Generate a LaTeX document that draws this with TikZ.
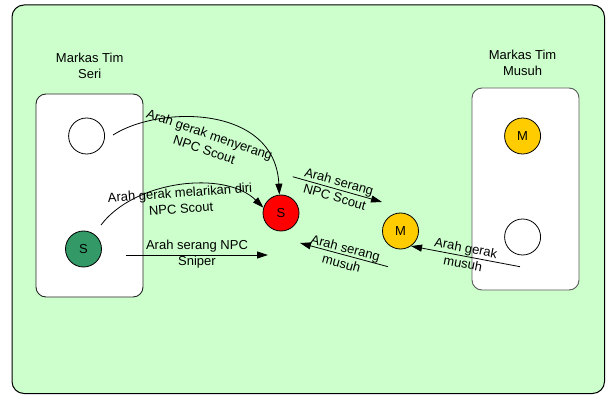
\documentclass[tikz,border=0pt]{standalone}
\usepackage{fontspec}
\setmainfont{Liberation Sans}
\usetikzlibrary{arrows.meta}
\definecolor{bggreen}{HTML}{CCFFCC}
\definecolor{sgreen}{HTML}{339966}
\definecolor{myyellow}{HTML}{FFCC00}
\begin{document}
\begin{tikzpicture}[x=1pt,y=-1pt,
  every node/.style={font=\fontsize{13}{16}\selectfont},
  circ/.style={circle,draw=black,line width=0.8pt,minimum size=36pt,inner sep=0pt},
  lbl/.style={align=center,inner sep=0pt},
  arr/.style={line width=0.8pt,-{Triangle[length=11pt,width=7pt]}},
  basebox/.style={draw=black!85,line width=0.9pt,fill=white,rounded corners=10pt}]
\useasboundingbox (0,0) rectangle (606,396);
\draw[fill=bggreen,draw=black,line width=1pt,rounded corners=12pt] (12,5) rectangle (604.5,393.5);
% bases
\draw[basebox] (36,94) rectangle (143,297);
\draw[basebox,draw=black!65] (472,88) rectangle (579,290);
\node[lbl] (tseri) at (89.7,66) {Markas Tim\\Seri};
\node[lbl] (tmusuh) at (522.6,63) {Markas Tim\\Musuh};
% circles
\node[circ,fill=white] (w1) at (86.6,136) {};
\node[circ,fill=sgreen] (gs) at (83.5,249) {S};
\node[circ,fill=red] (rs) at (281,213) {S};
\node[circ,fill=myyellow] (ym) at (400.5,231) {M};
\node[circ,fill=myyellow] (ym2) at (522.6,136) {M};
\node[circ,fill=white] (w2) at (522.6,237) {};
% free ends
\coordinate (a1s) at (113,135);
\coordinate (a2s) at (101,225);
\coordinate (a3s) at (125.6,255);
\coordinate (a3e) at (268,255);
\coordinate (a4s) at (292.7,176.7);
\coordinate (a4e) at (382,202);
\coordinate (a5s) at (388,266.7);
\coordinate (a5e) at (300,243);
\coordinate (a6s) at (520,266.7);
% arrows
\draw[arr] (a1s) .. controls (160,105) and (275,105) .. (rs.95);
\draw[arr] (a2s) .. controls (135,180) and (225,170) .. (rs.163);
\draw[arr] (a3s) -- (a3e);
\draw[arr] (a4s) -- (a4e);
\draw[arr] (a5s) -- (a5e);
\draw[arr] (a6s) -- (ym.-55);
% labels
\node[lbl,rotate=-19] (l1) at (207,142) {Arah gerak menyerang\\NPC Scout};
\node[lbl,rotate=4] (l2) at (180.5,200.5) {Arah gerak melarikan diri\\NPC Scout};
\node[lbl] (l3) at (197,254.5) {Arah serang NPC\\Sniper};
\node[lbl,rotate=-16] (l4) at (337,189) {Arah serang\\NPC Scout};
\node[lbl,rotate=-15] (l5) at (343.5,255.5) {Arah serang\\musuh};
\node[lbl,rotate=-11] (l6) at (464.5,255.5) {Arah gerak\\musuh};
\end{tikzpicture}
\end{document}
